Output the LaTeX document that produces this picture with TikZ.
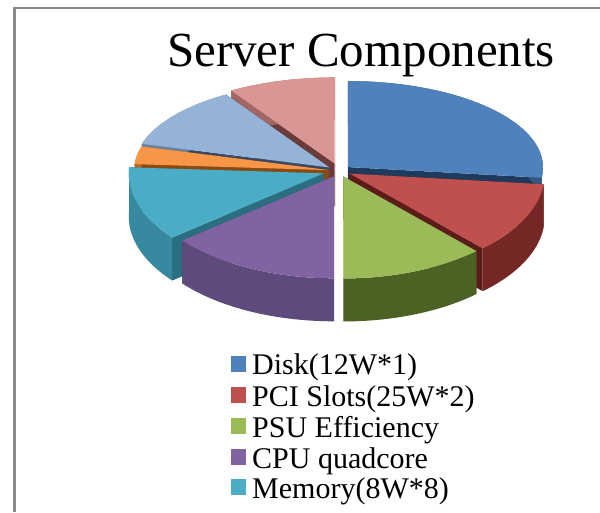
\documentclass[tikz,border=0pt]{standalone}
\usepackage{fontspec}
\setmainfont{Liberation Serif}
\usepackage{tikz}

% top / side / cut colours of the slices
\definecolor{disktop}{HTML}{4F81BD}
\definecolor{diskside}{HTML}{34587F}
\definecolor{diskcut}{HTML}{1E3A5C}
\definecolor{pcitop}{HTML}{C0504D}
\definecolor{pciside}{HTML}{742724}
\definecolor{pcicut}{HTML}{5C1C1A}
\definecolor{psutop}{HTML}{9BBB59}
\definecolor{psuside}{HTML}{4C6124}
\definecolor{psucut}{HTML}{3E4F1E}
\definecolor{cputop}{HTML}{8064A2}
\definecolor{cpuside}{HTML}{5E4A7D}
\definecolor{cpucut}{HTML}{45365C}
\definecolor{memtop}{HTML}{4BACC6}
\definecolor{memside}{HTML}{37899F}
\definecolor{memcut}{HTML}{2A6F80}
\definecolor{othertop}{HTML}{F79646}
\definecolor{otherside}{HTML}{B9661C}
\definecolor{othercut}{HTML}{8B4A12}
\definecolor{fantop}{HTML}{95B3D7}
\definecolor{fanside}{HTML}{6A83A3}
\definecolor{fancut}{HTML}{3B4861}
\definecolor{boardtop}{HTML}{D99694}
\definecolor{boardside}{HTML}{A26664}
\definecolor{boardcut}{HTML}{6B3B3A}
\definecolor{framegray}{HTML}{8A8A8A}

\tikzset{declare function={rimx(\t)=195*cos(\t); rimy(\t)=94*sin(\t)-8*abs(sin(\t));}}
\tikzset{legendbox/.style={minimum size=15.5pt, inner sep=0pt, outer sep=0pt}}
\tikzset{legendtext/.style={anchor=base west, inner sep=0pt, font=\fontsize{30}{31}\selectfont}}

% #1 from, #2 to, #3 explode, #4 slice colour prefix
\newcommand{\pieslice}[4]{%
  \pgfmathsetmacro\slicemid{(#1+#2)/2}
  \begin{scope}[shift={({#3*cos(\slicemid)},{#3*0.49*sin(\slicemid)})}]
    \fill[#4cut] (0,0) -- ({rimx(#1)},{rimy(#1)}) -- ++(0,-43) -- (0,-43) -- cycle;
    \fill[#4cut] (0,0) -- ({rimx(#2)},{rimy(#2)}) -- ++(0,-43) -- (0,-43) -- cycle;
    \fill[#4side] plot[domain=#1:#2, samples=40] ({rimx(\x)},{rimy(\x)})
      -- plot[domain=#2:#1, samples=40] ({rimx(\x)},{rimy(\x)-43}) -- cycle;
    \fill[#4top] (0,0) -- plot[domain=#1:#2, samples=40] ({rimx(\x)},{rimy(\x)}) -- cycle;
  \end{scope}}

\begin{document}
\begin{tikzpicture}[x=1pt, y=1pt]
    \useasboundingbox (0,0) rectangle (600,512);
    \draw[framegray, line width=2.8pt] (14.2,0) -- (14.2,504) -- (600,504);

    \node[anchor=base, inner sep=0pt, font=\fontsize{49}{50}\selectfont] (title) at (361,445) {Server Components};

    % back slices first
    \begin{scope}[shift={(339,341)}]
        \pieslice{-270}{-238}{16}{board}
        \pieslice{-6}{90}{12}{disk}
        \pieslice{-238}{-196}{12}{fan}
        \pieslice{-196}{-184}{10}{other}
        \pieslice{-184}{-141}{16}{mem}
        \pieslice{-47}{-6}{12}{pci}
        \pieslice{-141}{-90}{12}{cpu}
        \pieslice{-90}{-47}{12}{psu}
    \end{scope}

    % legend
    \node[legendbox, fill=disktop] (diskkey) at (238.5,148) {};
    \node[legendbox, fill=pcitop] (pcikey) at (238.5,117) {};
    \node[legendbox, fill=psutop] (psukey) at (238.5,86) {};
    \node[legendbox, fill=cputop] (cpukey) at (238.5,55) {};
    \node[legendbox, fill=memtop] (memkey) at (238.5,25) {};
    \node[legendtext] (disklabel) at (252,137) {Disk(12W*1)};
    \node[legendtext] (pcilabel) at (252,106) {PCI Slots(25W*2)};
    \node[legendtext] (psulabel) at (252,75) {PSU Efficiency};
    \node[legendtext] (cpulabel) at (252,44) {CPU quadcore};
    \node[legendtext] (memlabel) at (252,14) {Memory(8W*8)};
\end{tikzpicture}
\end{document}
